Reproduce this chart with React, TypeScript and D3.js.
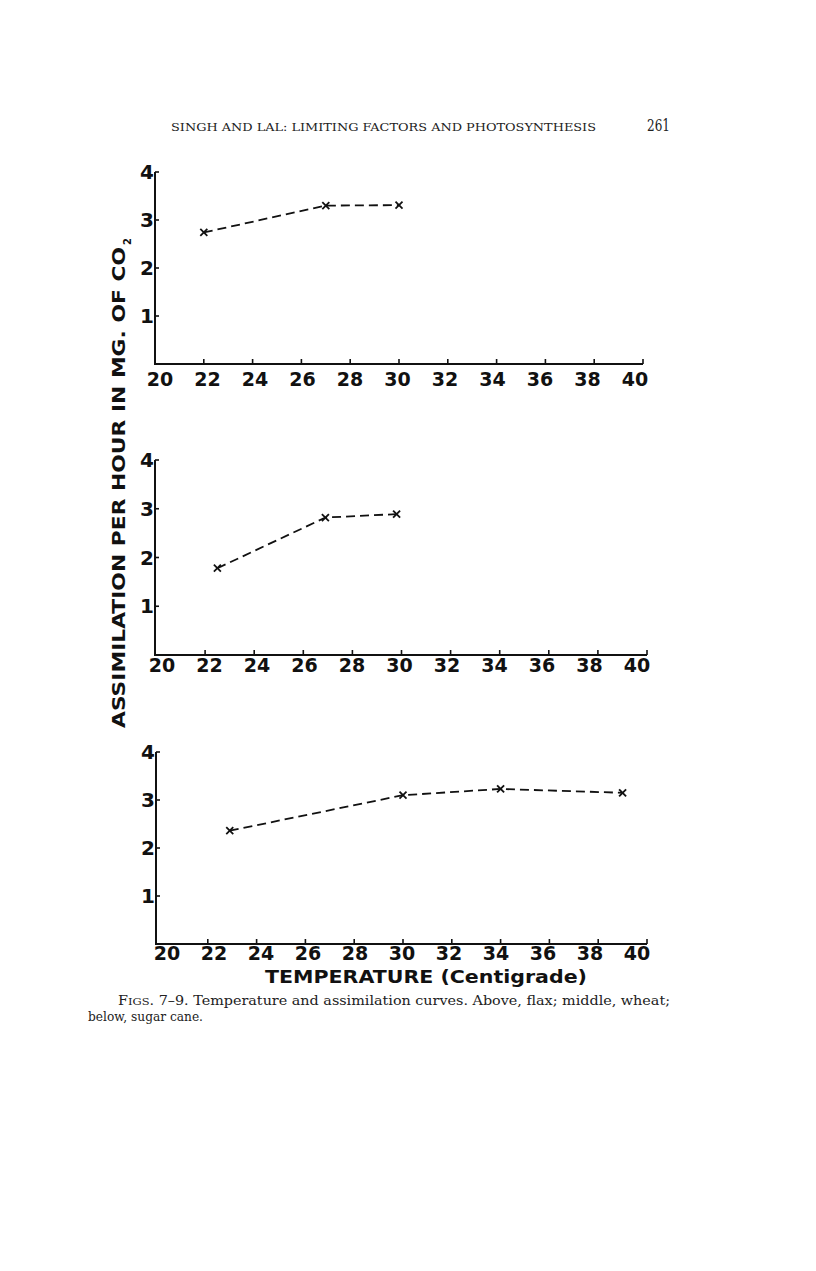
import React from "react";
import * as d3 from "d3";

// ---- data ----
const xTickValues = [20, 22, 24, 26, 28, 30, 32, 34, 36, 38, 40];
const yTickValues = [1, 2, 3, 4];

const flaxTemp = [22, 27, 30];
const flaxAssim = [2.74, 3.3, 3.31];

const wheatTemp = [22.5, 26.9, 29.8];
const wheatAssim = [1.78, 2.82, 2.89];

const caneTemp = [22.9, 30, 34, 39];
const caneAssim = [2.36, 3.1, 3.23, 3.15];

const headerText = "SINGH AND LAL: LIMITING FACTORS AND PHOTOSYNTHESIS";
const pageNumber = "261";
const yLabel = "ASSIMILATION PER HOUR IN MG. OF CO";
const xLabel = "TEMPERATURE (Centigrade)";

// ---- layout ----
const panels = [
  { temp: flaxTemp, val: flaxAssim, axisX: 155, xr: [155, 643], yr: [364, 172], lr: [160, 635], lb: 386 },
  { temp: wheatTemp, val: wheatAssim, axisX: 155, xr: [156, 647], yr: [655, 460], lr: [162, 637], lb: 672 },
  { temp: caneTemp, val: caneAssim, axisX: 156, xr: [159, 647], yr: [944, 752], lr: [167, 637], lb: 960 },
];

const boldFont = "'DejaVu Sans', sans-serif";
const serifFont = "'DejaVu Serif', 'Liberation Serif', serif";

function Panel({ p }: { p: any }) {
  const x = d3.scaleLinear().domain([20, 40]).range(p.xr);
  const y = d3.scaleLinear().domain([0, 4]).range(p.yr);
  const lx = d3.scaleLinear().domain([20, 40]).range(p.lr);
  const pts = p.temp.map((t: number, i: number) => [x(t), y(p.val[i])] as [number, number]);
  const line = d3.line();
  const y0 = y(0);
  return (
    <g>
      <line x1={p.axisX} x2={p.axisX} y1={y(4)} y2={y0} stroke="#111" strokeWidth={2} />
      <line x1={p.axisX - 1} x2={x(40)} y1={y0} y2={y0} stroke="#111" strokeWidth={2} />
      {yTickValues.map((v) => (
        <g key={"y" + v}>
          <line x1={p.axisX} x2={p.axisX + 4} y1={y(v)} y2={y(v)} stroke="#111" strokeWidth={1.6} />
          <text x={p.axisX - 1} y={y(v) + 7} textAnchor="end" fontFamily={boldFont} fontWeight="bold" fontSize={20} fill="#111">
            {v}
          </text>
        </g>
      ))}
      {xTickValues.map((v) => (
        <g key={"x" + v}>
          {v > 20 && <line x1={x(v)} x2={x(v)} y1={y0} y2={y0 - 5} stroke="#111" strokeWidth={1.6} />}
          <text x={lx(v)} y={p.lb} textAnchor="middle" fontFamily={boldFont} fontWeight="bold" fontSize={19} fill="#111">
            {v}
          </text>
        </g>
      ))}
      <path d={line(pts) || ""} fill="none" stroke="#111" strokeWidth={1.8} strokeDasharray="9,5" />
      {pts.map(([px, py]: [number, number], i: number) => (
        <g key={"m" + i} stroke="#111" strokeWidth={1.8}>
          <line x1={px - 3.5} x2={px + 3.5} y1={py - 3.5} y2={py + 3.5} />
          <line x1={px - 3.5} x2={px + 3.5} y1={py + 3.5} y2={py - 3.5} />
        </g>
      ))}
    </g>
  );
}

export default function App() {
  return (
    <svg width={816} height={1271} style={{ position: "absolute", left: 0, top: 0, background: "#fff" }}>
      <rect width={816} height={1271} fill="#fff" />
      <text x={171} y={131} fontFamily={serifFont} fontSize={11.5} textLength={425} lengthAdjust="spacingAndGlyphs" fill="#222">
        {headerText}
      </text>
      <text x={647} y={131} fontFamily={serifFont} fontSize={17} textLength={23} lengthAdjust="spacingAndGlyphs" fill="#222">
        {pageNumber}
      </text>

      {panels.map((p, i) => (
        <Panel key={i} p={p} />
      ))}

      <g transform="translate(125,728) rotate(-90)">
        <text x={0} y={0} fontFamily={boldFont} fontWeight="bold" fontSize={18} textLength={481} lengthAdjust="spacingAndGlyphs" fill="#111">
          {yLabel}
        </text>
        <text x={483} y={6} fontFamily={boldFont} fontWeight="bold" fontSize={10} fill="#111">
          2
        </text>
      </g>

      <text x={265} y={983} fontFamily={boldFont} fontWeight="bold" fontSize={18} textLength={322} lengthAdjust="spacingAndGlyphs" fill="#111">
        {xLabel}
      </text>

      <text x={118} y={1005} fontFamily={serifFont} fontSize={12.5} textLength={552} lengthAdjust="spacingAndGlyphs" fill="#222">
        <tspan>F</tspan>
        <tspan fontSize={10}>IGS</tspan>
        <tspan>. 7–9.  Temperature and assimilation curves.  Above, flax; middle, wheat;</tspan>
      </text>
      <text x={88} y={1021} fontFamily={serifFont} fontSize={12.5} textLength={115} lengthAdjust="spacingAndGlyphs" fill="#222">
        below, sugar cane.
      </text>
    </svg>
  );
}
